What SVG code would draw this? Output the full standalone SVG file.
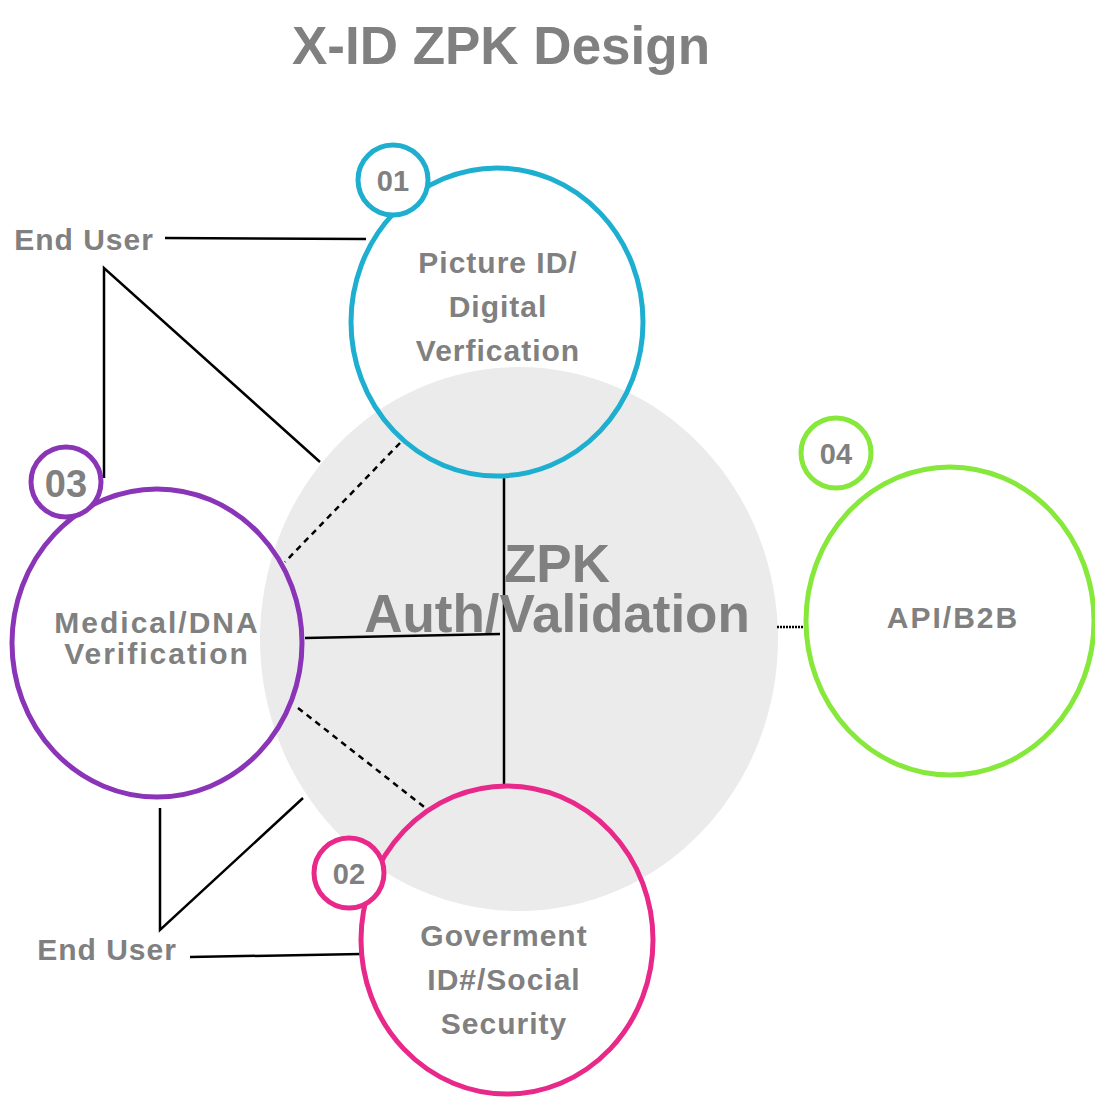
<svg xmlns="http://www.w3.org/2000/svg" width="1095" height="1097" viewBox="0 0 1095 1097">
<style>
text{font-family:"Liberation Sans",Arial,sans-serif;font-weight:bold;fill:#808080;text-anchor:middle}
.lbl{font-size:30px;letter-spacing:1px}
.num{font-size:29px}
.ring{fill:none;stroke-width:5}
.badge{fill:#fff;stroke-width:5}
.ln{stroke:#000;stroke-width:2.5;fill:none}
.dash{stroke:#000;stroke-width:2.5;fill:none;stroke-dasharray:6 5}
</style>
<rect width="1095" height="1097" fill="#fff"/>
<text x="501" y="64" style="font-size:53px">X-ID ZPK Design</text>
<g id="zpk">
<ellipse cx="519" cy="639" rx="259" ry="272" fill="#ebebeb"/>
</g>
<g id="connectors">
<line class="ln" x1="165" y1="238" x2="366" y2="239"/>
<polyline class="ln" points="104,478 104,268 320,462"/>
<line class="dash" x1="400" y1="443" x2="285" y2="562"/>
<line class="ln" x1="504" y1="475" x2="504" y2="787"/>
<line class="ln" x1="305" y1="638" x2="500" y2="634"/>
<line class="dash" x1="298" y1="708" x2="428" y2="810"/>
<line stroke="#000" stroke-width="2.5" stroke-dasharray="2 1" x1="777" y1="627" x2="806" y2="627"/>
<polyline class="ln" points="160,808 160,930 303,798"/>
<line class="ln" x1="190" y1="957" x2="361" y2="954"/>
</g>
<g id="zpk-label">
<text x="557" y="582" style="font-size:53px">ZPK</text>
<text x="557" y="632" style="font-size:53px">Auth/Validation</text>
</g>
<g id="node01">
<ellipse class="ring" cx="497" cy="322" rx="146" ry="154" stroke="#1eafd0"/>
<circle class="badge" cx="393" cy="180" r="35" stroke="#1eafd0"/>
<text class="num" x="393" y="191">01</text>
<text class="lbl" x="498" y="273">Picture ID/</text>
<text class="lbl" x="498" y="317">Digital</text>
<text class="lbl" x="498" y="361">Verfication</text>
</g>
<g id="node03">
<ellipse class="ring" cx="157" cy="643" rx="145" ry="154" stroke="#8a35b8"/>
<circle class="badge" cx="66" cy="482" r="35" stroke="#8a35b8"/>
<text x="66" y="497" style="font-size:38px">03</text>
<text class="lbl" x="157" y="633" style="letter-spacing:2px">Medical/DNA</text>
<text class="lbl" x="157" y="664" style="letter-spacing:2px">Verification</text>
</g>
<g id="node02">
<ellipse class="ring" cx="507" cy="940" rx="146" ry="154" stroke="#e8298a"/>
<circle class="badge" cx="349" cy="873" r="35" stroke="#e8298a"/>
<text class="num" x="349" y="884">02</text>
<text class="lbl" x="504" y="946">Goverment</text>
<text class="lbl" x="504" y="990">ID#/Social</text>
<text class="lbl" x="504" y="1034">Security</text>
</g>
<g id="node04">
<ellipse class="ring" cx="950" cy="621" rx="144" ry="154" stroke="#86e83a"/>
<circle class="badge" cx="836" cy="453" r="35" stroke="#86e83a"/>
<text class="num" x="836" y="464">04</text>
<text class="lbl" x="953" y="628" style="letter-spacing:2px">API/B2B</text>
</g>
<g id="enduser-top">
<text class="lbl" x="84" y="250">End User</text>
</g>
<g id="enduser-bottom">
<text class="lbl" x="107" y="960">End User</text>
</g>
</svg>
